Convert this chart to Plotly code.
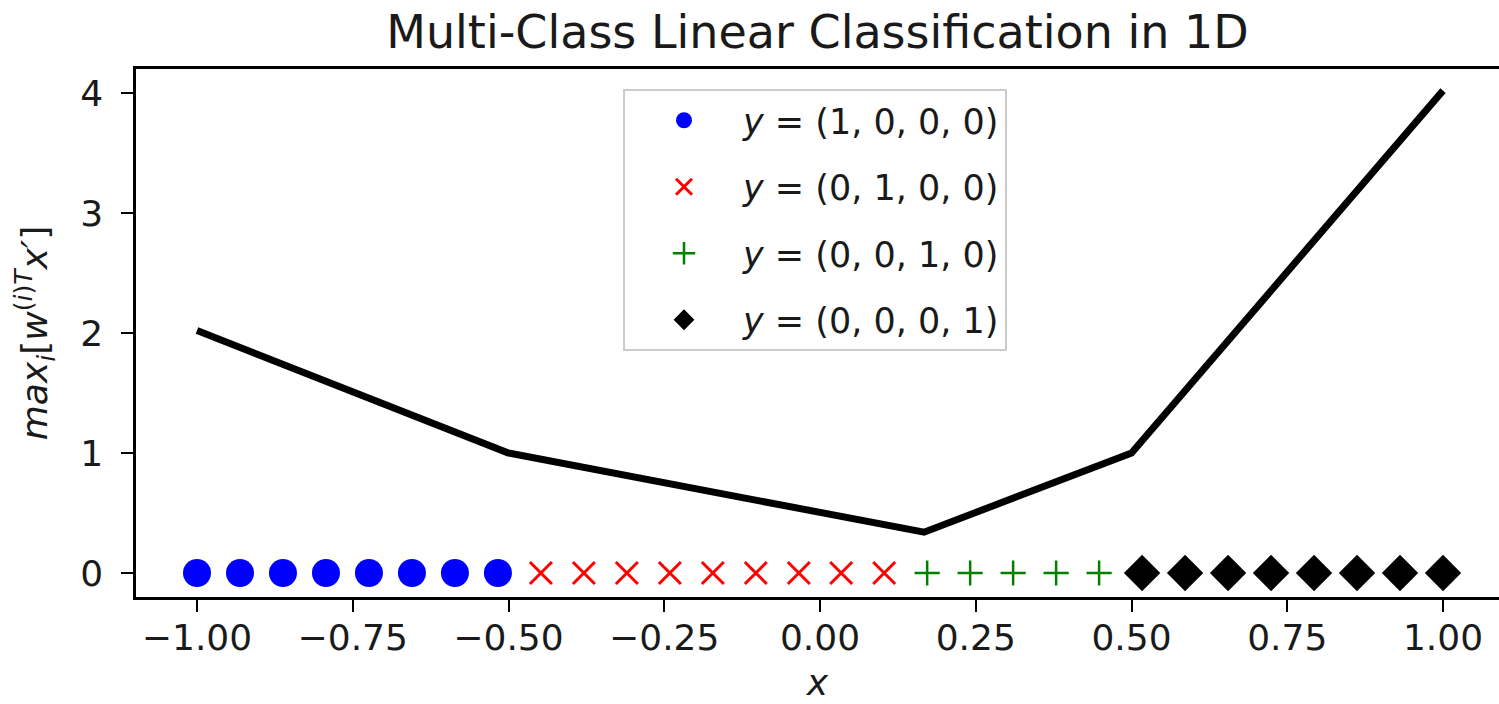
import plotly.graph_objects as go

# ---- data ----
x_class0 = [-1.0, -0.931, -0.862, -0.793, -0.724, -0.655, -0.586, -0.517]
x_class1 = [-0.448, -0.379, -0.310, -0.241, -0.172, -0.103, -0.034, 0.034, 0.103]
x_class2 = [0.172, 0.241, 0.310, 0.379, 0.448]
x_class3 = [0.517, 0.586, 0.655, 0.724, 0.793, 0.862, 0.931, 1.0]
y_class0 = [0] * len(x_class0)
y_class1 = [0] * len(x_class1)
y_class2 = [0] * len(x_class2)
y_class3 = [0] * len(x_class3)

line_x = [-1.0, -0.5, 0.167, 0.5, 1.0]
line_y = [2.02, 1.0, 0.34, 1.0, 4.02]

labels = ["<i>y</i> = (1, 0, 0, 0)", "<i>y</i> = (0, 1, 0, 0)",
          "<i>y</i> = (0, 0, 1, 0)", "<i>y</i> = (0, 0, 0, 1)"]

x_ticks = [-1.0, -0.75, -0.5, -0.25, 0.0, 0.25, 0.5, 0.75, 1.0]
y_ticks = [0, 1, 2, 3, 4]

FONT = "DejaVu Sans"
W, H = 1499, 704
# plot area in screen pixels: left 136, top 69, bottom 597, right 1499
L, T = 136, 69
B = H - 597
R = 0

fig = go.Figure()
fig.add_trace(go.Scatter(x=line_x, y=line_y, mode="lines",
                         line=dict(color="black", width=7), showlegend=False,
                         hoverinfo="skip"))
fig.add_trace(go.Scatter(x=x_class0, y=y_class0, mode="markers", name=labels[0],
                         legendgroup="a",
                         marker=dict(symbol="circle", size=28, color="#0000ff",
                                     line=dict(width=0))))
fig.add_trace(go.Scatter(x=x_class1, y=y_class1, mode="markers", name=labels[1],
                         legendgroup="b",
                         marker=dict(symbol="x-thin", size=22, color="#ff0000",
                                     line=dict(width=3, color="#ff0000"))))
fig.add_trace(go.Scatter(x=x_class2, y=y_class2, mode="markers", name=labels[2],
                         legendgroup="c",
                         marker=dict(symbol="cross-thin", size=18, color="#008000",
                                     line=dict(width=2.5, color="#008000"))))
fig.add_trace(go.Scatter(x=x_class3, y=y_class3, mode="markers", name=labels[3],
                         legendgroup="d",
                         marker=dict(symbol="diamond", size=28, color="black",
                                     line=dict(width=0))))

px_per_unit = (1443 - 197) / 2.0
x_lo = -1.0 - (197 - L) / px_per_unit
x_hi = 1.0 + (W - 1443) / px_per_unit

plot_w = W - L - R
plot_h = H - T - B

fig.update_layout(
    width=W, height=H,
    margin=dict(l=L, r=R, t=T, b=B, pad=0, autoexpand=False),
    paper_bgcolor="white", plot_bgcolor="white",
    font=dict(family=FONT, size=36, color="#1a1a1a"),
    title=dict(text="Multi-Class Linear Classification in 1D",
               font=dict(family=FONT, size=46, color="#1a1a1a"),
               x=0.5, xref="paper", xanchor="center",
               y=1 - 32 / H, yref="container", yanchor="middle"),
    xaxis=dict(range=[x_lo, x_hi], tickvals=x_ticks, tickformat=".2f",
               showgrid=False, zeroline=False, automargin=False,
               showline=True, linecolor="black", linewidth=2.5, mirror=True,
               ticks="outside", ticklen=12, tickwidth=2, tickcolor="black",
               ticklabelstandoff=-5,
               tickfont=dict(family=FONT, size=36, color="#1a1a1a"),
               title=dict(text="<i>x</i>", font=dict(family=FONT, size=36),
                          standoff=13)),
    yaxis=dict(range=[-0.2, 4.2], tickvals=y_ticks,
               showgrid=False, zeroline=False, automargin=False,
               showline=True, linecolor="black", linewidth=2.5, mirror=False,
               ticks="outside", ticklen=12, tickwidth=2, tickcolor="black",
               ticklabelstandoff=11,
               tickfont=dict(family=FONT, size=36, color="#1a1a1a"),
               title=dict(text="<i>max</i><sub><i>i</i></sub>[<i>w</i><sup>(<i>i</i>)<i>T</i></sup><i>x′</i>]",
                          font=dict(family=FONT, size=36), standoff=22)),
    legend=dict(x=(623 - L) / plot_w, xanchor="left",
                y=(597 - 89) / plot_h, yanchor="top",
                bgcolor="rgba(255,255,255,0.8)", bordercolor="#cccccc",
                borderwidth=2, font=dict(family=FONT, size=35, color="#1a1a1a"),
                itemwidth=108, tracegroupgap=18, traceorder="grouped",
                itemsizing="trace"),
)

fig.write_html(
    "out.html",
    config={"displayModeBar": False},
    post_script="document.body.style.margin='0';"
                "document.body.style.padding='0';"
                "document.documentElement.style.overflow='hidden';",
)
